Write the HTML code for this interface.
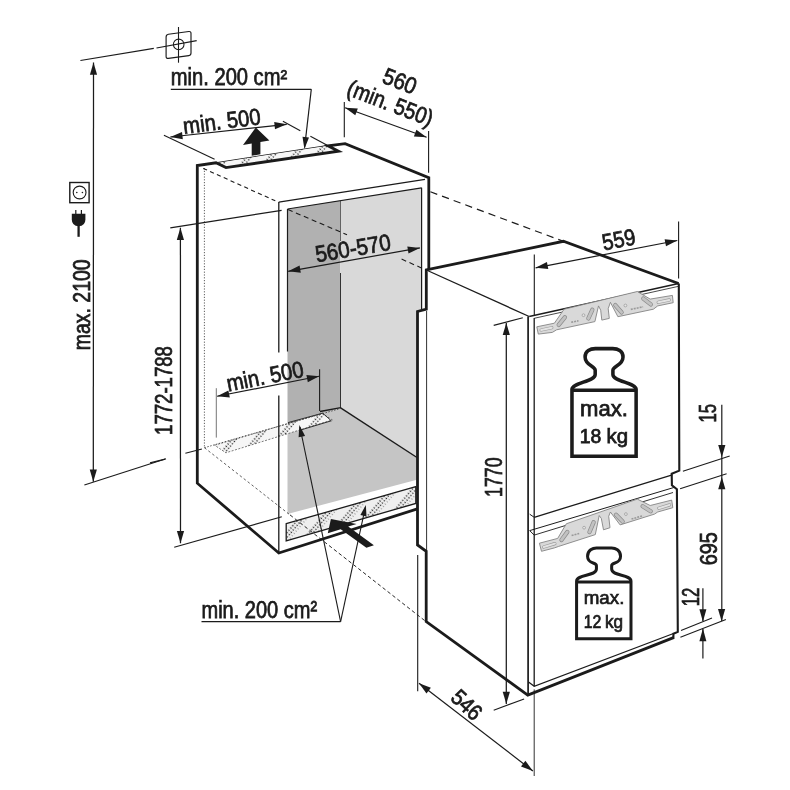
<!DOCTYPE html>
<html><head><meta charset="utf-8"><title>Installation dimensions</title>
<style>
html,body{margin:0;padding:0;background:#fff;}
body{width:790px;height:790px;overflow:hidden;font-family:"Liberation Sans",sans-serif;}
svg{display:block;will-change:transform;font-family:"Liberation Sans",sans-serif;}
</style></head><body>
<svg width="790" height="790" viewBox="0 0 790 790">
<rect width="790" height="790" fill="#ffffff"/>
<defs>
<pattern id="dots" width="17" height="3" patternUnits="userSpaceOnUse" patternTransform="rotate(40)">
<rect width="17" height="3" fill="#efefef"/>
<circle cx="1.2" cy="1.5" r="0.8" fill="#222"/><circle cx="4.3" cy="1.5" r="0.8" fill="#222"/><circle cx="7.2" cy="0.2" r="0.55" fill="#555"/></pattern>
<pattern id="dots2" width="17" height="3" patternUnits="userSpaceOnUse" patternTransform="rotate(40)">
<rect width="17" height="3" fill="#f6f6f6"/>
<circle cx="1.2" cy="1.5" r="0.8" fill="#222"/><circle cx="4.3" cy="1.5" r="0.8" fill="#222"/></pattern>
</defs>
<path d="M287.5,209.0 L340.4,200.6 L340.4,408.5 L287.5,423.5 Z" fill="#b1b1b1" stroke="none" stroke-width="1.0" stroke-linejoin="miter"/>
<path d="M287.5,423.0 L340.4,408.0 L421.6,460.5 L421.6,478.4 L287.5,514.0 Z" fill="#c5c5c5" stroke="none" stroke-width="1.0" stroke-linejoin="miter"/>
<path d="M340.4,200.6 L421.6,187.8 L421.6,460.5 L340.4,408.5 Z" fill="#d9d9d9" stroke="none" stroke-width="1.0" stroke-linejoin="miter"/>
<line x1="340.5" y1="201.0" x2="340.5" y2="241.0" stroke="#555" stroke-width="0.9" stroke-linecap="butt"/>
<line x1="340.5" y1="273.0" x2="340.5" y2="408.0" stroke="#333" stroke-width="1.0" stroke-linecap="butt"/>
<path d="M214.6,445.2 L322.2,413.5 L332.3,419.9 L225.9,452.8 Z" fill="url(#dots2)" stroke="none" stroke-width="1.0" stroke-linejoin="miter"/>
<path d="M214.6,445.2 L322.2,413.5 L332.3,419.9 L225.9,452.8 Z" fill="none" stroke="#444" stroke-width="0.7" stroke-linejoin="miter" stroke-dasharray="2 1.5"/>
<line x1="320.0" y1="411.5" x2="340.8" y2="407.6" stroke="#1b1b1b" stroke-width="1.3" stroke-linecap="butt"/>
<path d="M322.7,413.2 L331.3,420.8 L300.0,430.2" fill="none" stroke="#222" stroke-width="0.9" stroke-linejoin="miter"/>
<line x1="288.0" y1="422.6" x2="322.7" y2="413.2" stroke="#222" stroke-width="0.9" stroke-linecap="butt"/>
<line x1="340.6" y1="407.8" x2="421.6" y2="460.5" stroke="#1b1b1b" stroke-width="1.4" stroke-linecap="butt"/>
<path d="M286.2,523.7 L415.8,486.6 L415.8,503.4 L286.2,540.9 Z" fill="url(#dots)" stroke="#1b1b1b" stroke-width="1.3" stroke-linejoin="miter"/>
<line x1="204.4" y1="168.0" x2="204.4" y2="447.7" stroke="#333" stroke-width="0.8" stroke-linecap="butt" stroke-dasharray="1.2 1.6"/>
<line x1="203.2" y1="168.4" x2="275.3" y2="200.8" stroke="#1b1b1b" stroke-width="1.1" stroke-linecap="butt" stroke-dasharray="4.2 3.3"/>
<line x1="288.0" y1="209.6" x2="347.0" y2="234.7" stroke="#1b1b1b" stroke-width="1.1" stroke-linecap="butt" stroke-dasharray="5 3.6"/>
<line x1="401.6" y1="259.1" x2="426.0" y2="270.0" stroke="#1b1b1b" stroke-width="1.1" stroke-linecap="butt" stroke-dasharray="5 3.6"/>
<line x1="204.4" y1="447.7" x2="340.4" y2="408.5" stroke="#333" stroke-width="0.8" stroke-linecap="butt" stroke-dasharray="1.5 1.5"/>
<line x1="204.4" y1="447.7" x2="290.0" y2="514.9" stroke="#444" stroke-width="0.85" stroke-linecap="butt" stroke-dasharray="2.6 2.4"/>
<line x1="290.0" y1="514.9" x2="426.0" y2="621.6" stroke="#2a2a2a" stroke-width="1.0" stroke-linecap="butt" stroke-dasharray="3.6 2.6"/>
<line x1="430.4" y1="191.8" x2="563.4" y2="241.3" stroke="#1b1b1b" stroke-width="1.2" stroke-linecap="butt" stroke-dasharray="7.3 5.1"/>
<line x1="278.8" y1="202.1" x2="425.0" y2="179.3" stroke="#1b1b1b" stroke-width="1.3" stroke-linecap="butt"/>
<line x1="278.8" y1="202.1" x2="278.8" y2="553.0" stroke="#1b1b1b" stroke-width="1.3" stroke-linecap="butt"/>
<line x1="287.5" y1="209.0" x2="287.5" y2="351.5" stroke="#1b1b1b" stroke-width="1.2" stroke-linecap="butt"/>
<line x1="287.5" y1="209.0" x2="421.6" y2="187.8" stroke="#1b1b1b" stroke-width="1.2" stroke-linecap="butt"/>
<line x1="421.6" y1="187.8" x2="421.6" y2="309.0" stroke="#1b1b1b" stroke-width="1.2" stroke-linecap="butt"/>
<line x1="216.0" y1="162.8" x2="327.5" y2="145.6" stroke="#1b1b1b" stroke-width="1.2" stroke-linecap="butt"/>
<path d="M216.3,162.9 L327.5,145.7 L338.5,151.2 L226.0,167.6 Z" fill="url(#dots2)" stroke="none" stroke-width="1.0" stroke-linejoin="miter"/>
<path d="M428.8,269.0 L428.8,177.8 L345.1,143.7 L328.0,145.8 L338.5,151.2 L226.0,167.6 L216.0,162.8 L197.3,165.5 L197.3,483.2 L278.8,553.0 L417.3,508.9" fill="none" stroke="#1b1b1b" stroke-width="2.8" stroke-linejoin="miter"/>
<path d="M426.3,270.0 L563.4,241.3 L678.6,283.5 L678.6,632.0 L527.8,695.1 L426.2,621.6 L426.2,551.3 L417.5,545.0 L417.5,311.5 L426.3,309.0 Z" fill="#fff" stroke="none" stroke-width="1.0" stroke-linejoin="miter"/>
<line x1="426.3" y1="270.0" x2="529.2" y2="316.5" stroke="#1b1b1b" stroke-width="1.3" stroke-linecap="butt"/>
<line x1="529.2" y1="316.5" x2="678.6" y2="283.5" stroke="#1b1b1b" stroke-width="1.3" stroke-linecap="butt"/>
<line x1="534.2" y1="318.3" x2="678.6" y2="286.3" stroke="#1b1b1b" stroke-width="0.8" stroke-linecap="butt"/>
<line x1="528.1" y1="316.5" x2="528.1" y2="695.0" stroke="#1b1b1b" stroke-width="1.7" stroke-linecap="butt"/>
<line x1="534.2" y1="318.0" x2="534.2" y2="686.3" stroke="#1b1b1b" stroke-width="1.3" stroke-linecap="butt"/>
<line x1="534.2" y1="689.4" x2="534.2" y2="776.0" stroke="#1b1b1b" stroke-width="0.9" stroke-linecap="butt"/>
<line x1="426.6" y1="311.0" x2="426.6" y2="551.0" stroke="#1b1b1b" stroke-width="0.9" stroke-linecap="butt"/>
<line x1="529.7" y1="514.2" x2="534.2" y2="517.3" stroke="#1b1b1b" stroke-width="1.0" stroke-linecap="butt"/>
<line x1="534.2" y1="517.3" x2="672.3" y2="474.8" stroke="#1b1b1b" stroke-width="1.3" stroke-linecap="butt"/>
<line x1="529.7" y1="530.6" x2="674.9" y2="487.2" stroke="#1b1b1b" stroke-width="1.0" stroke-linecap="butt"/>
<line x1="529.7" y1="530.6" x2="534.2" y2="535.1" stroke="#1b1b1b" stroke-width="1.0" stroke-linecap="butt"/>
<line x1="534.2" y1="535.1" x2="673.0" y2="492.5" stroke="#1b1b1b" stroke-width="0.9" stroke-linecap="butt"/>
<path d="M528.5,682.1 L534.2,686.3 L673.5,633.5" fill="none" stroke="#1b1b1b" stroke-width="1.3" stroke-linejoin="miter"/>
<path d="M678.8,283.5 L679.3,470.6 L671.7,473.8 L671.9,485.2 L676.9,489.2 L677.8,631.9 L673.4,633.8 L673.4,638.9" fill="none" stroke="#1b1b1b" stroke-width="2.1" stroke-linejoin="miter"/>
<path d="M678.6,283.5 L563.4,241.3 L426.3,270.0 L426.3,309.1 L417.5,311.5 L417.5,545.0 L426.2,551.3 L426.2,621.6 L527.8,695.1 L673.5,637.6" fill="none" stroke="#1b1b1b" stroke-width="2.8" stroke-linejoin="miter"/>
<path d="M536.8,326.8 L554.4,323.2 L564.1,309.2 L637.3,291.5 L650.2,299.1 L672.4,295.4 L673.2,302.7 L657.7,305.9 L653.4,309.2 L617.9,316.7 L610.4,302.3 L608.2,308.7 L609.3,318.4 L601.8,320.1 L600.7,310.2 L598.5,305.9 L594.9,321.6 L556.6,329.8 L552.3,332.4 L538.3,334.1 Z" fill="#d9d9d9" stroke="#858585" stroke-width="0.9" stroke-linejoin="round"/>
<line x1="558.7" y1="324.9" x2="564.8" y2="317.3" stroke="#8a8a8a" stroke-width="4.3" stroke-linecap="round"/>
<line x1="558.7" y1="324.9" x2="564.8" y2="317.3" stroke="#c2c2c2" stroke-width="2.9" stroke-linecap="round"/>
<line x1="588.4" y1="318.4" x2="592.3" y2="309.8" stroke="#8a8a8a" stroke-width="4.3" stroke-linecap="round"/>
<line x1="588.4" y1="318.4" x2="592.3" y2="309.8" stroke="#c2c2c2" stroke-width="2.9" stroke-linecap="round"/>
<line x1="615.3" y1="305.1" x2="621.6" y2="312.4" stroke="#8a8a8a" stroke-width="4.3" stroke-linecap="round"/>
<line x1="615.3" y1="305.1" x2="621.6" y2="312.4" stroke="#c2c2c2" stroke-width="2.9" stroke-linecap="round"/>
<line x1="643.3" y1="298.6" x2="650.8" y2="304.4" stroke="#8a8a8a" stroke-width="4.3" stroke-linecap="round"/>
<line x1="643.3" y1="298.6" x2="650.8" y2="304.4" stroke="#c2c2c2" stroke-width="2.9" stroke-linecap="round"/>
<line x1="541.1" y1="330.0" x2="551.8" y2="327.7" stroke="#9a9a9a" stroke-width="3.2" stroke-linecap="round"/>
<line x1="541.1" y1="330.0" x2="551.8" y2="327.7" stroke="#e4e4e4" stroke-width="2.0" stroke-linecap="round"/>
<line x1="658.2" y1="302.3" x2="669.3" y2="299.9" stroke="#9a9a9a" stroke-width="3.2" stroke-linecap="round"/>
<line x1="658.2" y1="302.3" x2="669.3" y2="299.9" stroke="#e4e4e4" stroke-width="2.0" stroke-linecap="round"/>
<circle cx="583.5" cy="315.2" r="1.4" fill="#e6e6e6" stroke="#8a8a8a" stroke-width="0.6"/>
<circle cx="625.4" cy="305.5" r="1.4" fill="#e6e6e6" stroke="#8a8a8a" stroke-width="0.6"/>
<line x1="571.2" y1="322.3" x2="578.5" y2="320.8" stroke="#9a9a9a" stroke-width="1.6" stroke-linecap="butt" stroke-dasharray="2 1"/>
<line x1="630.8" y1="309.4" x2="643.1" y2="306.8" stroke="#9a9a9a" stroke-width="1.6" stroke-linecap="butt" stroke-dasharray="2 1"/>
<path d="M539.4,543.2 L557.7,538.4 L566.3,523.8 L637.3,499.1 L650.2,505.5 L671.7,500.1 L672.8,507.7 L657.7,512.0 L654.5,514.1 L620.1,524.9 L610.4,512.0 L608.7,516.3 L610.0,527.7 L603.5,529.8 L601.3,518.4 L599.2,515.6 L595.3,534.6 L558.7,546.4 L554.4,547.9 L541.5,551.3 Z" fill="#d9d9d9" stroke="#858585" stroke-width="0.9" stroke-linejoin="round"/>
<line x1="561.5" y1="539.9" x2="567.3" y2="532.0" stroke="#8a8a8a" stroke-width="4.3" stroke-linecap="round"/>
<line x1="561.5" y1="539.9" x2="567.3" y2="532.0" stroke="#c2c2c2" stroke-width="2.9" stroke-linecap="round"/>
<line x1="589.5" y1="532.0" x2="593.6" y2="522.3" stroke="#8a8a8a" stroke-width="4.3" stroke-linecap="round"/>
<line x1="589.5" y1="532.0" x2="593.6" y2="522.3" stroke="#c2c2c2" stroke-width="2.9" stroke-linecap="round"/>
<line x1="616.0" y1="514.8" x2="622.6" y2="521.6" stroke="#8a8a8a" stroke-width="4.3" stroke-linecap="round"/>
<line x1="616.0" y1="514.8" x2="622.6" y2="521.6" stroke="#c2c2c2" stroke-width="2.9" stroke-linecap="round"/>
<line x1="642.7" y1="506.2" x2="650.6" y2="511.3" stroke="#8a8a8a" stroke-width="4.3" stroke-linecap="round"/>
<line x1="642.7" y1="506.2" x2="650.6" y2="511.3" stroke="#c2c2c2" stroke-width="2.9" stroke-linecap="round"/>
<line x1="543.7" y1="547.0" x2="554.9" y2="543.6" stroke="#9a9a9a" stroke-width="3.2" stroke-linecap="round"/>
<line x1="543.7" y1="547.0" x2="554.9" y2="543.6" stroke="#e4e4e4" stroke-width="2.0" stroke-linecap="round"/>
<line x1="658.8" y1="508.3" x2="669.6" y2="504.9" stroke="#9a9a9a" stroke-width="3.2" stroke-linecap="round"/>
<line x1="658.8" y1="508.3" x2="669.6" y2="504.9" stroke="#e4e4e4" stroke-width="2.0" stroke-linecap="round"/>
<circle cx="584.1" cy="527.7" r="1.4" fill="#e6e6e6" stroke="#8a8a8a" stroke-width="0.6"/>
<circle cx="625.9" cy="514.1" r="1.4" fill="#e6e6e6" stroke="#8a8a8a" stroke-width="0.6"/>
<line x1="571.6" y1="535.6" x2="579.2" y2="533.5" stroke="#9a9a9a" stroke-width="1.6" stroke-linecap="butt" stroke-dasharray="2 1"/>
<line x1="631.5" y1="519.1" x2="643.1" y2="515.6" stroke="#9a9a9a" stroke-width="1.6" stroke-linecap="butt" stroke-dasharray="2 1"/>
<g transform="translate(550,330) scale(0.177210703526493)"><path d="M124,713 L124,335 C124,297 255,290.7 255,250.7 L255,227.2 C255,203.2 198,200 198,152 C198,117 228,105 255.78,105 L354.22,105 C382,105 412,117 412,152 C412,200 355,203.2 355,227.2 L355,250.7 C355,290.7 486,297 486,335 L486,713 Z M124,340 L486,340" fill="#fff" stroke="#1b1b1b" stroke-width="20" stroke-linejoin="miter"/></g>
<g transform="translate(550,520) scale(0.177210703526493)"><path d="M150,670 L150,345 C150,307 262,317.03999999999996 262,277.03999999999996 L262,257.84000000000003 C262,233.84000000000003 212,253 212,205 C212,170 242,158 262.22,158 L347.78,158 C368,158 398,170 398,205 C398,253 348,233.84000000000003 348,257.84000000000003 L348,277.03999999999996 C348,317.03999999999996 457,307 457,345 L457,670 Z M150,350 L457,350" fill="#fff" stroke="#1b1b1b" stroke-width="17" stroke-linejoin="miter"/></g>
<text x="0" y="0" transform="translate(604.0,415.6) rotate(0)" font-size="21.5" text-anchor="middle" textLength="47.8" lengthAdjust="spacingAndGlyphs" font-weight="normal" fill="#1b1b1b" stroke="#1b1b1b" stroke-width="0.75">max.</text>
<text x="0" y="0" transform="translate(590.6,443.4) rotate(0)" font-size="20.3" text-anchor="middle" textLength="21.6" lengthAdjust="spacingAndGlyphs" font-weight="normal" fill="#1b1b1b" stroke="#1b1b1b" stroke-width="0.75">18</text>
<text x="0" y="0" transform="translate(617.2,443.4) rotate(0)" font-size="20.3" text-anchor="middle" textLength="21.6" lengthAdjust="spacingAndGlyphs" font-weight="normal" fill="#1b1b1b" stroke="#1b1b1b" stroke-width="0.75">kg</text>
<text x="0" y="0" transform="translate(604.0,604.2) rotate(0)" font-size="18.7" text-anchor="middle" textLength="40.7" lengthAdjust="spacingAndGlyphs" font-weight="normal" fill="#1b1b1b" stroke="#1b1b1b" stroke-width="0.7">max.</text>
<text x="0" y="0" transform="translate(592.5,627.7) rotate(0)" font-size="17.7" text-anchor="middle" textLength="17.7" lengthAdjust="spacingAndGlyphs" font-weight="normal" fill="#1b1b1b" stroke="#1b1b1b" stroke-width="0.7">12</text>
<text x="0" y="0" transform="translate(614.0,627.7) rotate(0)" font-size="17.7" text-anchor="middle" textLength="18.1" lengthAdjust="spacingAndGlyphs" font-weight="normal" fill="#1b1b1b" stroke="#1b1b1b" stroke-width="0.7">kg</text>
<line x1="80.4" y1="60.5" x2="153.8" y2="48.4" stroke="#1b1b1b" stroke-width="1.2" stroke-linecap="butt"/>
<line x1="93.5" y1="62.5" x2="93.3" y2="481.8" stroke="#1b1b1b" stroke-width="1.25" stroke-linecap="butt"/>
<path d="M93.5,62.5 L97.1,74.7 L89.9,74.7 Z" fill="#1b1b1b"/>
<path d="M93.3,481.8 L89.7,469.6 L96.9,469.6 Z" fill="#1b1b1b"/>
<line x1="84.4" y1="485.0" x2="166.0" y2="458.8" stroke="#1b1b1b" stroke-width="1.2" stroke-linecap="butt"/>
<text x="0" y="0" transform="translate(89.6,304.8) rotate(-90)" font-size="23" text-anchor="middle" textLength="91.0" lengthAdjust="spacingAndGlyphs" font-weight="normal" fill="#1b1b1b" stroke="#1b1b1b" stroke-width="0.75">max. 2100</text>
<path d="M166.1,37 Q166.1,34.6 168.4,34.2 L188.8,31.5 Q191,31.2 191,33.5 L191,53 Q191,55.3 188.8,55.6 L168.4,58.4 Q166.1,58.7 166.1,56.4 Z" fill="#fff" stroke="#1b1b1b" stroke-width="1.15"/>
<circle cx="178.7" cy="44.4" r="5.3" fill="none" stroke="#1b1b1b" stroke-width="1.05"/>
<line x1="178.5" y1="27.0" x2="178.5" y2="62.7" stroke="#1b1b1b" stroke-width="1.1" stroke-linecap="butt"/>
<line x1="156.5" y1="48.0" x2="196.7" y2="40.7" stroke="#1b1b1b" stroke-width="1.2" stroke-linecap="butt"/>
<rect x="69.8" y="182.5" width="19.3" height="20.2" fill="#fff" stroke="#1b1b1b" stroke-width="1.4"/>
<circle cx="79.6" cy="192.5" r="6.4" fill="none" stroke="#1b1b1b" stroke-width="1.1"/>
<circle cx="76.8" cy="192.5" r="0.8" fill="#1b1b1b"/><circle cx="82.4" cy="192.5" r="0.8" fill="#1b1b1b"/>
<path d="M71.8,213.8 L85.4,213.8 L85.4,219.5 Q85.4,225.8 78.6,226.2 Q71.8,225.8 71.8,219.5 Z" fill="#1b1b1b"/>
<line x1="75.8" y1="210.0" x2="75.8" y2="214.0" stroke="#1b1b1b" stroke-width="1.2" stroke-linecap="butt"/>
<line x1="81.4" y1="210.0" x2="81.4" y2="214.0" stroke="#1b1b1b" stroke-width="1.2" stroke-linecap="butt"/>
<line x1="78.6" y1="225.0" x2="78.6" y2="236.8" stroke="#1b1b1b" stroke-width="2.3" stroke-linecap="butt"/>
<text x="0" y="0" transform="translate(229.0,85.0) rotate(0)" font-size="23" text-anchor="middle" textLength="116.3" lengthAdjust="spacingAndGlyphs" font-weight="normal" fill="#1b1b1b" stroke="#1b1b1b" stroke-width="0.75">min. 200 cm²</text>
<line x1="170.8" y1="89.3" x2="311.3" y2="89.3" stroke="#1b1b1b" stroke-width="1.2" stroke-linecap="butt"/>
<line x1="311.3" y1="89.3" x2="304.6" y2="147.5" stroke="#1b1b1b" stroke-width="1.2" stroke-linecap="butt"/>
<path d="M304.4,149.1 L302.5,136.8 L309.0,137.6 Z" fill="#1b1b1b"/>
<line x1="163.9" y1="135.2" x2="214.6" y2="159.2" stroke="#1b1b1b" stroke-width="1.1" stroke-linecap="butt"/>
<line x1="282.9" y1="121.3" x2="300.3" y2="130.7" stroke="#1b1b1b" stroke-width="1.1" stroke-linecap="butt"/>
<line x1="310.4" y1="136.2" x2="327.2" y2="145.3" stroke="#1b1b1b" stroke-width="1.1" stroke-linecap="butt"/>
<line x1="170.3" y1="137.0" x2="286.7" y2="124.3" stroke="#1b1b1b" stroke-width="1.2" stroke-linecap="butt"/>
<path d="M170.3,137.0 L182.0,132.1 L182.8,139.3 Z" fill="#1b1b1b"/>
<path d="M286.7,124.3 L275.0,129.2 L274.2,122.0 Z" fill="#1b1b1b"/>
<text x="0" y="0" transform="translate(222.8,129.0) rotate(-7.2)" font-size="23" text-anchor="middle" textLength="78.0" lengthAdjust="spacingAndGlyphs" font-weight="normal" fill="#1b1b1b" stroke="#1b1b1b" stroke-width="0.75">min. 500</text>
<path d="M255.8,127.6 L269.4,140.4 L260.4,141.9 L260.4,154.2 L251.7,155.8 L251.7,143.4 L243,144.9 Z" fill="#1b1b1b"/>
<line x1="344.3" y1="101.9" x2="344.3" y2="137.3" stroke="#1b1b1b" stroke-width="1.1" stroke-linecap="butt"/>
<line x1="428.6" y1="131.0" x2="428.6" y2="172.8" stroke="#1b1b1b" stroke-width="1.1" stroke-linecap="butt"/>
<line x1="345.1" y1="107.7" x2="426.6" y2="137.3" stroke="#1b1b1b" stroke-width="1.2" stroke-linecap="butt"/>
<path d="M345.1,107.7 L357.8,108.5 L355.3,115.2 Z" fill="#1b1b1b"/>
<path d="M426.6,137.3 L413.9,136.5 L416.4,129.8 Z" fill="#1b1b1b"/>
<text x="0" y="0" transform="translate(397.0,88.5) rotate(21)" font-size="23" text-anchor="middle" textLength="34.5" lengthAdjust="spacingAndGlyphs" font-weight="normal" fill="#1b1b1b" stroke="#1b1b1b" stroke-width="0.75">560</text>
<text x="0" y="0" transform="translate(387.5,110.5) rotate(21)" font-size="23" text-anchor="middle" textLength="90.0" lengthAdjust="spacingAndGlyphs" font-weight="normal" fill="#1b1b1b" stroke="#1b1b1b" stroke-width="0.75">(min. 550)</text>
<line x1="288.2" y1="271.3" x2="419.9" y2="247.9" stroke="#1b1b1b" stroke-width="1.2" stroke-linecap="butt"/>
<path d="M288.2,271.3 L299.6,265.6 L300.8,272.7 Z" fill="#1b1b1b"/>
<path d="M419.9,247.9 L408.5,253.6 L407.3,246.5 Z" fill="#1b1b1b"/>
<text x="0" y="0" transform="translate(354.3,256.0) rotate(-9.6)" font-size="23" text-anchor="middle" textLength="76.2" lengthAdjust="spacingAndGlyphs" font-weight="normal" fill="#1b1b1b" stroke="#1b1b1b" stroke-width="0.75">560-570</text>
<line x1="678.6" y1="221.5" x2="678.6" y2="278.5" stroke="#1b1b1b" stroke-width="1.1" stroke-linecap="butt"/>
<line x1="534.3" y1="254.4" x2="534.3" y2="316.0" stroke="#1b1b1b" stroke-width="1.1" stroke-linecap="butt"/>
<line x1="535.6" y1="267.8" x2="677.3" y2="240.5" stroke="#1b1b1b" stroke-width="1.2" stroke-linecap="butt"/>
<path d="M535.6,267.8 L546.9,262.0 L548.3,269.0 Z" fill="#1b1b1b"/>
<path d="M677.3,240.5 L666.0,246.3 L664.6,239.3 Z" fill="#1b1b1b"/>
<text x="0" y="0" transform="translate(620.3,247.3) rotate(-10.9)" font-size="23" text-anchor="middle" textLength="33.5" lengthAdjust="spacingAndGlyphs" font-weight="normal" fill="#1b1b1b" stroke="#1b1b1b" stroke-width="0.75">559</text>
<line x1="216.3" y1="388.2" x2="216.3" y2="437.6" stroke="#666" stroke-width="0.9" stroke-linecap="butt"/>
<line x1="319.6" y1="369.2" x2="319.6" y2="411.0" stroke="#1b1b1b" stroke-width="1.1" stroke-linecap="butt"/>
<rect x="276" y="352.5" width="6" height="43" fill="#fff"/>
<line x1="217.1" y1="396.3" x2="319.1" y2="376.3" stroke="#1b1b1b" stroke-width="1.1" stroke-linecap="butt"/>
<path d="M217.1,396.3 L228.4,390.4 L229.8,397.5 Z" fill="#1b1b1b"/>
<path d="M319.1,376.3 L307.8,382.2 L306.4,375.1 Z" fill="#1b1b1b"/>
<text x="0" y="0" transform="translate(266.5,384.0) rotate(-11.1)" font-size="23" text-anchor="middle" textLength="78.0" lengthAdjust="spacingAndGlyphs" font-weight="normal" fill="#1b1b1b" stroke="#1b1b1b" stroke-width="0.75">min. 500</text>
<line x1="170.3" y1="227.8" x2="281.6" y2="210.4" stroke="#1b1b1b" stroke-width="1.2" stroke-linecap="butt"/>
<line x1="180.4" y1="227.8" x2="180.5" y2="543.2" stroke="#1b1b1b" stroke-width="1.25" stroke-linecap="butt"/>
<path d="M180.4,227.8 L184.0,240.0 L176.8,240.0 Z" fill="#1b1b1b"/>
<path d="M180.5,543.2 L176.9,531.0 L184.1,531.0 Z" fill="#1b1b1b"/>
<line x1="174.2" y1="547.2" x2="281.8" y2="516.8" stroke="#1b1b1b" stroke-width="1.1" stroke-linecap="butt"/>
<line x1="150.0" y1="462.9" x2="165.2" y2="459.1" stroke="#1b1b1b" stroke-width="1.1" stroke-linecap="butt"/>
<line x1="185.4" y1="453.3" x2="201.9" y2="449.0" stroke="#1b1b1b" stroke-width="1.1" stroke-linecap="butt"/>
<text x="0" y="0" transform="translate(172.3,390.5) rotate(-90)" font-size="23" text-anchor="middle" textLength="88.8" lengthAdjust="spacingAndGlyphs" font-weight="normal" fill="#1b1b1b" stroke="#1b1b1b" stroke-width="0.75">1772-1788</text>
<line x1="493.7" y1="325.4" x2="522.8" y2="317.8" stroke="#1b1b1b" stroke-width="1.1" stroke-linecap="butt"/>
<line x1="506.3" y1="322.9" x2="506.3" y2="703.9" stroke="#1b1b1b" stroke-width="1.25" stroke-linecap="butt"/>
<path d="M506.3,322.9 L509.9,335.1 L502.7,335.1 Z" fill="#1b1b1b"/>
<path d="M506.3,703.9 L502.7,691.7 L509.9,691.7 Z" fill="#1b1b1b"/>
<line x1="493.7" y1="710.3" x2="524.1" y2="698.9" stroke="#1b1b1b" stroke-width="1.1" stroke-linecap="butt"/>
<text x="0" y="0" transform="translate(501.6,477.2) rotate(-90)" font-size="23" text-anchor="middle" textLength="39.5" lengthAdjust="spacingAndGlyphs" font-weight="normal" fill="#1b1b1b" stroke="#1b1b1b" stroke-width="0.75">1770</text>
<line x1="682.9" y1="471.3" x2="729.7" y2="456.1" stroke="#1b1b1b" stroke-width="1.1" stroke-linecap="butt"/>
<line x1="680.1" y1="488.7" x2="726.6" y2="473.8" stroke="#1b1b1b" stroke-width="1.1" stroke-linecap="butt"/>
<line x1="721.8" y1="404.7" x2="721.8" y2="621.0" stroke="#1b1b1b" stroke-width="1.2" stroke-linecap="butt"/>
<path d="M721.8,457.3 L718.2,445.1 L725.4,445.1 Z" fill="#1b1b1b"/>
<path d="M721.8,477.0 L725.4,489.2 L718.2,489.2 Z" fill="#1b1b1b"/>
<path d="M721.6,621.2 L718.0,609.0 L725.2,609.0 Z" fill="#1b1b1b"/>
<text x="0" y="0" transform="translate(716.2,413.3) rotate(-90)" font-size="23" text-anchor="middle" textLength="18.6" lengthAdjust="spacingAndGlyphs" font-weight="normal" fill="#1b1b1b" stroke="#1b1b1b" stroke-width="0.75">15</text>
<text x="0" y="0" transform="translate(716.5,548.7) rotate(-90)" font-size="23" text-anchor="middle" textLength="33.2" lengthAdjust="spacingAndGlyphs" font-weight="normal" fill="#1b1b1b" stroke="#1b1b1b" stroke-width="0.75">695</text>
<line x1="681.0" y1="630.4" x2="712.0" y2="618.0" stroke="#1b1b1b" stroke-width="1.1" stroke-linecap="butt"/>
<line x1="680.4" y1="637.2" x2="725.9" y2="619.5" stroke="#1b1b1b" stroke-width="1.1" stroke-linecap="butt"/>
<line x1="702.9" y1="588.2" x2="702.9" y2="621.0" stroke="#1b1b1b" stroke-width="1.2" stroke-linecap="butt"/>
<path d="M702.9,621.8 L699.4,609.2 L706.4,609.2 Z" fill="#1b1b1b"/>
<line x1="702.9" y1="629.0" x2="702.9" y2="658.5" stroke="#1b1b1b" stroke-width="1.2" stroke-linecap="butt"/>
<path d="M702.9,628.6 L706.4,641.2 L699.4,641.2 Z" fill="#1b1b1b"/>
<text x="0" y="0" transform="translate(698.7,597.0) rotate(-90)" font-size="23" text-anchor="middle" textLength="18.4" lengthAdjust="spacingAndGlyphs" font-weight="normal" fill="#1b1b1b" stroke="#1b1b1b" stroke-width="0.75">12</text>
<line x1="417.7" y1="555.0" x2="417.7" y2="691.3" stroke="#1b1b1b" stroke-width="1.1" stroke-linecap="butt"/>
<line x1="419.0" y1="683.2" x2="532.9" y2="771.0" stroke="#1b1b1b" stroke-width="1.2" stroke-linecap="butt"/>
<path d="M419.0,683.2 L430.9,687.8 L426.5,693.5 Z" fill="#1b1b1b"/>
<path d="M532.9,771.0 L521.0,766.4 L525.4,760.7 Z" fill="#1b1b1b"/>
<text x="0" y="0" transform="translate(461.5,710.5) rotate(43)" font-size="22.5" text-anchor="middle" textLength="33.0" lengthAdjust="spacingAndGlyphs" font-weight="normal" fill="#1b1b1b" stroke="#1b1b1b" stroke-width="0.75">546</text>
<text x="0" y="0" transform="translate(259.3,618.0) rotate(0)" font-size="23.3" text-anchor="middle" textLength="115.7" lengthAdjust="spacingAndGlyphs" font-weight="normal" fill="#1b1b1b" stroke="#1b1b1b" stroke-width="0.75">min. 200 cm²</text>
<line x1="201.5" y1="621.6" x2="340.6" y2="621.6" stroke="#1b1b1b" stroke-width="1.2" stroke-linecap="butt"/>
<line x1="340.6" y1="621.6" x2="299.9" y2="427.0" stroke="#1b1b1b" stroke-width="1.1" stroke-linecap="butt"/>
<path d="M299.4,424.9 L305.1,436.0 L298.6,437.3 Z" fill="#1b1b1b"/>
<line x1="340.6" y1="621.6" x2="365.3" y2="507.5" stroke="#1b1b1b" stroke-width="1.1" stroke-linecap="butt"/>
<path d="M365.8,505.0 L366.5,516.4 L360.4,515.1 Z" fill="#1b1b1b"/>
<path d="M330.9,519 L327.8,533.2 L340.7,529.2 L366.4,547.8 L373.9,545.2 L348.2,526.6 L356.6,523.9 Z" fill="#1b1b1b"/>
</svg>
</body></html>
